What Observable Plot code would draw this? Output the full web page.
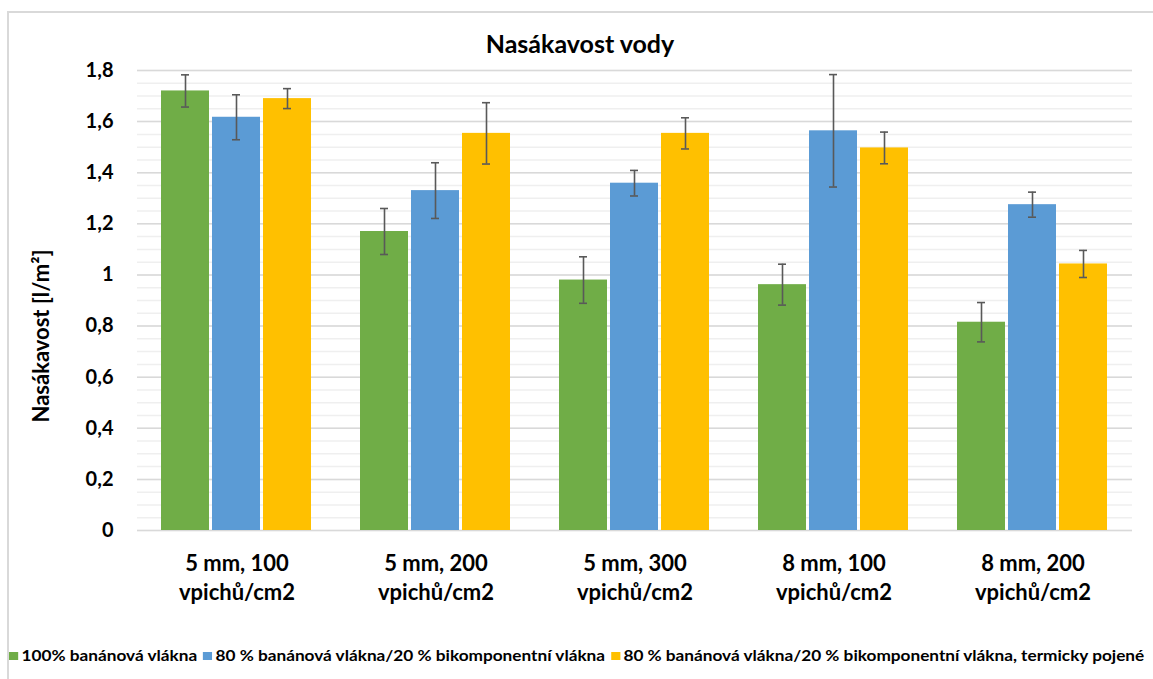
<!DOCTYPE html>
<html>
<head>
<meta charset="utf-8">
<script src="https://cdn.jsdelivr.net/npm/d3@7"></script>
<script src="https://cdn.jsdelivr.net/npm/@observablehq/plot@0.6"></script>
<style>
  html, body { margin: 0; padding: 0; background: #fff; }
  #wrap { position: relative; width: 1153px; height: 679px; overflow: hidden; font-family: Lato, "Open Sans", sans-serif; color: #000; }
  #frame { position: absolute; left: 7px; top: 11px; width: 1200px; height: 720px; border: 2px solid #d9d9d9; box-sizing: border-box; }
  #title { position: absolute; top: 28px; left: 0; width: 1160px; text-align: center; font-weight: bold; font-size: 25px; line-height: 30px; }
  #ylabel { position: absolute; left: 40px; top: 336px; transform: translate(-50%, -50%) rotate(-90deg); white-space: nowrap; font-weight: bold; font-size: 22px; }
  #chart { position: absolute; left: 0; top: 40px; }
  #legend { position: absolute; left: 9px; top: 646px; white-space: nowrap; font-weight: bold; font-size: 15px; line-height: 18px; transform-origin: left center; }
  #legend .item { display: inline-block; margin-right: 5px; }
  #legend .sw { display: inline-block; width: 8px; height: 8px; margin-right: 3px; vertical-align: 1px; }
</style>
</head>
<body>
<div id="wrap">
  <div id="frame"></div>
  <div id="title">Nasákavost vody</div>
  <div id="ylabel">Nasákavost [l/m²]</div>
  <div id="chart"></div>
  <div id="legend"></div>
</div>
<script>
// ---- data ----
const categories = ["5 mm, 100\nvpichů/cm2", "5 mm, 200\nvpichů/cm2", "5 mm, 300\nvpichů/cm2", "8 mm, 100\nvpichů/cm2", "8 mm, 200\nvpichů/cm2"];
const series = ["100% banánová vlákna", "80 % banánová vlákna/20 % bikomponentní vlákna", "80 % banánová vlákna/20 % bikomponentní vlákna, termicky pojené"];
const colors = ["#70ad47", "#5b9bd5", "#ffc000"];
const values100 = [1.72, 1.17, 0.98, 0.962, 0.815];
const values80 = [1.617, 1.33, 1.359, 1.564, 1.275];
const values80t = [1.69, 1.554, 1.554, 1.497, 1.043];
const err100 = [0.063, 0.09, 0.091, 0.08, 0.077];
const err80 = [0.088, 0.109, 0.05, 0.22, 0.049];
const err80t = [0.039, 0.12, 0.061, 0.062, 0.053];
const yTicks = [0, 0.2, 0.4, 0.6, 0.8, 1, 1.2, 1.4, 1.6, 1.8];

const allValues = [values100, values80, values80t];
const allErr = [err100, err80, err80t];
const table = [];
categories.forEach((c, i) => {
  series.forEach((s, j) => {
    table.push({cat: c, ser: s, v: allValues[j][i], lo: allValues[j][i] - allErr[j][i], hi: allValues[j][i] + allErr[j][i]});
  });
});
const minorTicks = d3.ticks(0, 1.8, 36);

const chart = Plot.plot({
  width: 1153,
  height: 570,
  marginLeft: 137,
  marginRight: 21,
  marginTop: 30,
  marginBottom: 80,
  style: {fontFamily: "Lato, 'Open Sans', sans-serif", color: "#000", background: "transparent"},
  fx: {domain: categories, paddingInner: 0, paddingOuter: 0, label: null},
  x: {domain: series, paddingInner: 0.0588, paddingOuter: 0.48, axis: null},
  y: {domain: [0, 1.8], axis: null},
  color: {domain: series, range: colors},
  marks: [
    Plot.ruleY(minorTicks, {stroke: "#efefef", strokeWidth: 1.5}),
    Plot.ruleY(yTicks, {stroke: "#d9d9d9", strokeWidth: 1.5}),
    Plot.barY(table, {fx: "cat", x: "ser", y: "v", fill: "ser"}),
    Plot.ruleX(table, {fx: "cat", x: "ser", y1: "lo", y2: "hi", stroke: "#595959", strokeWidth: 1.6}),
    Plot.tickY(table, {fx: "cat", x: "ser", y: "lo", stroke: "#595959", strokeWidth: 1.6, insetLeft: 20, insetRight: 20}),
    Plot.tickY(table, {fx: "cat", x: "ser", y: "hi", stroke: "#595959", strokeWidth: 1.6, insetLeft: 20, insetRight: 20}),
    Plot.axisY({ticks: yTicks, tickSize: 0, tickPadding: 24, fontSize: 20, fontWeight: "bold", tickFormat: d => String(d).replace(".", ","), label: null}),
    Plot.axisFx({anchor: "bottom", tickSize: 0, tickPadding: 19, fontSize: 22, fontWeight: "bold", lineHeight: 1.35, label: null, tickFormat: d => d})
  ]
});
document.getElementById("chart").appendChild(chart);

// legend
const leg = document.getElementById("legend");
series.forEach((s, j) => {
  const item = document.createElement("span");
  item.className = "item";
  const sw = document.createElement("span");
  sw.className = "sw";
  sw.style.background = colors[j];
  item.appendChild(sw);
  item.appendChild(document.createTextNode(s));
  leg.appendChild(item);
});
const w = leg.getBoundingClientRect().width;
leg.style.transform = `scaleX(${1141 / w})`;
</script>
</body>
</html>
